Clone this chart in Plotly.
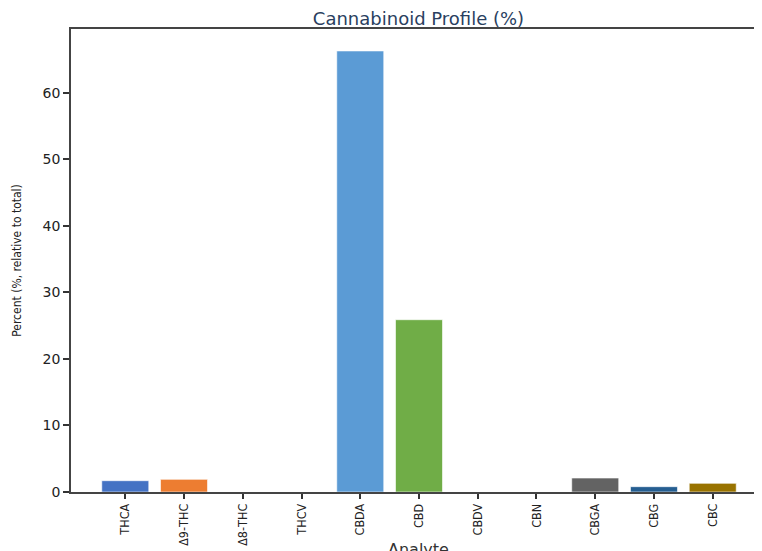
import plotly.graph_objects as go

analytes = ["THCA", "Δ9-THC", "Δ8-THC", "THCV", "CBDA", "CBD", "CBDV", "CBN", "CBGA", "CBG", "CBC"]
percent = [1.7, 1.9, 0.0, 0.0, 66.3, 25.9, 0.0, 0.0, 2.1, 0.8, 1.3]
bar_colors = ["#4472C4", "#ED7D31", "#A5A5A5", "#FFC000", "#5B9BD5", "#70AD47",
              "#264478", "#9E480E", "#636363", "#255E91", "#997300"]

fig = go.Figure(go.Bar(
    x=analytes, y=percent, width=0.8,
    marker=dict(color=bar_colors, line=dict(color="rgba(255,255,255,0.6)", width=1)),
))

wide = "DejaVu Sans, Verdana, sans-serif"
narrow = "Liberation Sans Narrow, DejaVu Sans Condensed, Arial Narrow, sans-serif"

fig.update_layout(
    width=762, height=551,
    margin=dict(l=63, r=4, t=21, b=67),
    paper_bgcolor="white", plot_bgcolor="white",
    showlegend=False,
    title=dict(text="Cannabinoid Profile (%)", x=0.5, xref="paper", xanchor="center",
               y=1 - 11 / 551, yref="container", yanchor="middle",
               font=dict(family=wide, size=18, color="#2a3f5f")),
)
fig.update_xaxes(
    range=[-0.924, 10.907], type="category",
    showline=True, linecolor="#444", linewidth=1.5, mirror=True,
    ticks="outside", ticklen=5, tickcolor="#333", tickwidth=1.5,
    tickangle=-90, tickfont=dict(family=narrow, size=12.5, color="#222"),
    showgrid=False, automargin=False,
    title=dict(text="Analyte", standoff=2, font=dict(family=wide, size=16, color="#333")),
)
fig.update_yaxes(
    range=[0, 69.6],
    showline=True, linecolor="#444", linewidth=1.5,
    ticks="outside", ticklen=6, tickcolor="#333", tickwidth=1.5,
    tickvals=[0, 10, 20, 30, 40, 50, 60],
    tickfont=dict(family=wide, size=14, color="#222"),
    showgrid=False, zeroline=False, automargin=False,
    title=dict(text="Percent (%, relative to total)", standoff=18,
               font=dict(family=narrow, size=12, color="#222")),
)

fig.write_html("out.html")
